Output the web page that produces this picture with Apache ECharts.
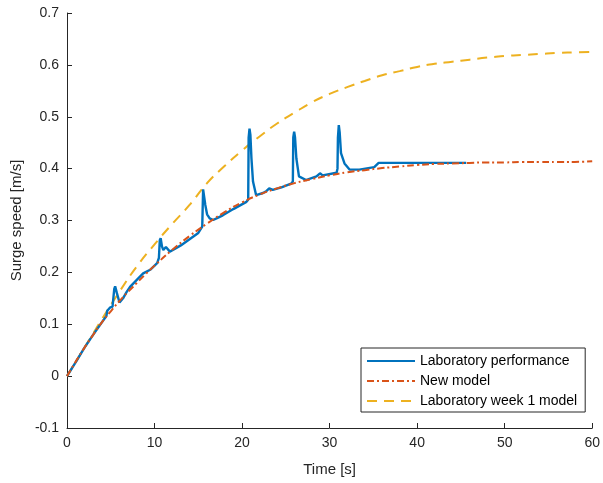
<!DOCTYPE html>
<html>
<head>
<meta charset="utf-8">
<script src="https://cdn.jsdelivr.net/npm/echarts@6/dist/echarts.min.js"></script>
<style>html,body{margin:0;padding:0;background:#fff}#c{width:603px;height:483px}</style>
</head>
<body>
<div id="c"></div>
<script>
var seriesNames = ['Laboratory performance', 'New model', 'Laboratory week 1 model'];
var xTicks = [0, 10, 20, 30, 40, 50, 60];
var yTicks = [-0.1, 0, 0.1, 0.2, 0.3, 0.4, 0.5, 0.6, 0.7];

var labTime = [0,1,2,3,4,4.5,4.6,4.9,5.2,5.4,5.5,5.7,6.0,6.15,6.4,6.8,7.2,8,8.7,9.5,10.3,10.5,10.6,10.7,10.85,11.0,11.3,11.75,12.2,13,14,15,15.45,15.55,15.65,15.8,16.0,16.3,16.7,17.2,17.8,19,20.5,20.7,20.75,20.85,20.95,21.07,21.25,21.6,22.4,22.8,23.1,23.5,24.5,25.6,25.8,25.85,25.95,26.05,26.2,26.5,27.3,28.5,28.9,29.2,30.8,30.9,30.95,31.05,31.15,31.3,31.7,32.3,33.4,35.1,35.6,45.6];
var labSpeed = [0,0.027,0.055,0.08,0.104,0.116,0.126,0.132,0.134,0.168,0.173,0.160,0.142,0.139,0.150,0.162,0.172,0.186,0.198,0.205,0.218,0.228,0.262,0.266,0.250,0.243,0.249,0.240,0.244,0.252,0.264,0.276,0.288,0.360,0.363,0.330,0.312,0.304,0.301,0.305,0.310,0.322,0.336,0.340,0.460,0.477,0.465,0.420,0.375,0.349,0.353,0.357,0.362,0.359,0.364,0.371,0.375,0.460,0.471,0.460,0.420,0.385,0.378,0.385,0.391,0.387,0.392,0.400,0.460,0.484,0.470,0.430,0.410,0.398,0.398,0.403,0.411,0.411];

var newModelTime = [0,1,2,3,4,5,6,7,8,9,10,12,14,16,18,20,22,24,26,28,30,32,34,36,38,40,42,44,46,48,50,52,54,56,58,60];
var newModelSpeed = [0,0.028,0.055,0.08,0.104,0.125,0.145,0.163,0.18,0.197,0.213,0.243,0.27,0.294,0.316,0.335,0.35,0.362,0.372,0.38,0.387,0.393,0.397,0.401,0.404,0.407,0.409,0.41,0.411,0.412,0.412,0.413,0.413,0.413,0.413,0.414];

var week1Time = [0,2,4,6,8,10,12,14,16,18,20,22,24,26,28,30,32,34,36,38,40,42,44,46,48,50,52,54,56,58,60];
var week1Speed = [0,0.055,0.11,0.163,0.212,0.254,0.293,0.33,0.372,0.405,0.435,0.462,0.487,0.508,0.528,0.544,0.557,0.569,0.58,0.588,0.596,0.602,0.606,0.61,0.614,0.617,0.619,0.621,0.623,0.624,0.625];

function pairs(t, v) { return t.map(function (x, i) { return [x, v[i]]; }); }

var font = 'Liberation Sans, Arial, Helvetica, sans-serif';
var chart = echarts.init(document.getElementById('c'), null, {renderer: 'canvas'});
chart.setOption({
  animation: false,
  backgroundColor: '#ffffff',
  textStyle: {fontFamily: font},
  grid: {left: 67, right: 10, top: 13, bottom: 55, containLabel: false},
  legend: {
    orient: 'vertical',
    left: 361, top: 348,
    data: seriesNames,
    itemWidth: 48, itemHeight: 14, itemGap: 6,
    padding: [6, 8, 4, 5],
    borderColor: '#262626', borderWidth: 1,
    backgroundColor: '#fff',
    itemStyle: {opacity: 0},
    textStyle: {fontFamily: font, fontSize: 14, color: '#000'}
  },
  xAxis: {
    type: 'value', min: xTicks[0], max: xTicks[xTicks.length - 1], interval: 10,
    name: 'Time [s]', nameLocation: 'middle', nameGap: 34,
    nameTextStyle: {fontFamily: font, fontSize: 15, color: '#262626'},
    axisLine: {onZero: false, lineStyle: {color: '#262626', width: 1}},
    axisTick: {inside: true, length: 5, lineStyle: {color: '#262626'}},
    axisLabel: {fontFamily: font, fontSize: 14, color: '#262626', margin: 8},
    splitLine: {show: false}
  },
  yAxis: {
    type: 'value', min: yTicks[0], max: yTicks[yTicks.length - 1], interval: 0.1,
    name: 'Surge speed [m/s]', nameLocation: 'middle', nameGap: 39,
    nameTextStyle: {fontFamily: font, fontSize: 15, color: '#262626'},
    axisLine: {show: true, onZero: false, lineStyle: {color: '#262626', width: 1}},
    axisTick: {show: true, inside: true, length: 5, lineStyle: {color: '#262626'}},
    axisLabel: {fontFamily: font, fontSize: 14, color: '#262626', margin: 8,
      formatter: function (v) { return String(Math.round(v * 10) / 10); }},
    splitLine: {show: false}
  },
  series: [
    {name: seriesNames[2], type: 'line', data: pairs(week1Time, week1Speed), symbol: 'none', smooth: true, z: 1,
      lineStyle: {color: '#EDB120', width: 2, type: [10, 7]}, itemStyle: {color: '#EDB120'}},
    {name: seriesNames[0], type: 'line', data: pairs(labTime, labSpeed), symbol: 'none', z: 2,
      lineStyle: {color: '#0072BD', width: 2.4}, itemStyle: {color: '#0072BD'}},
    {name: seriesNames[1], type: 'line', data: pairs(newModelTime, newModelSpeed), symbol: 'none', smooth: true, z: 3,
      lineStyle: {color: '#D95319', width: 2, type: [7, 3, 2, 3]}, itemStyle: {color: '#D95319'}}
  ]
});
</script>
</body>
</html>
